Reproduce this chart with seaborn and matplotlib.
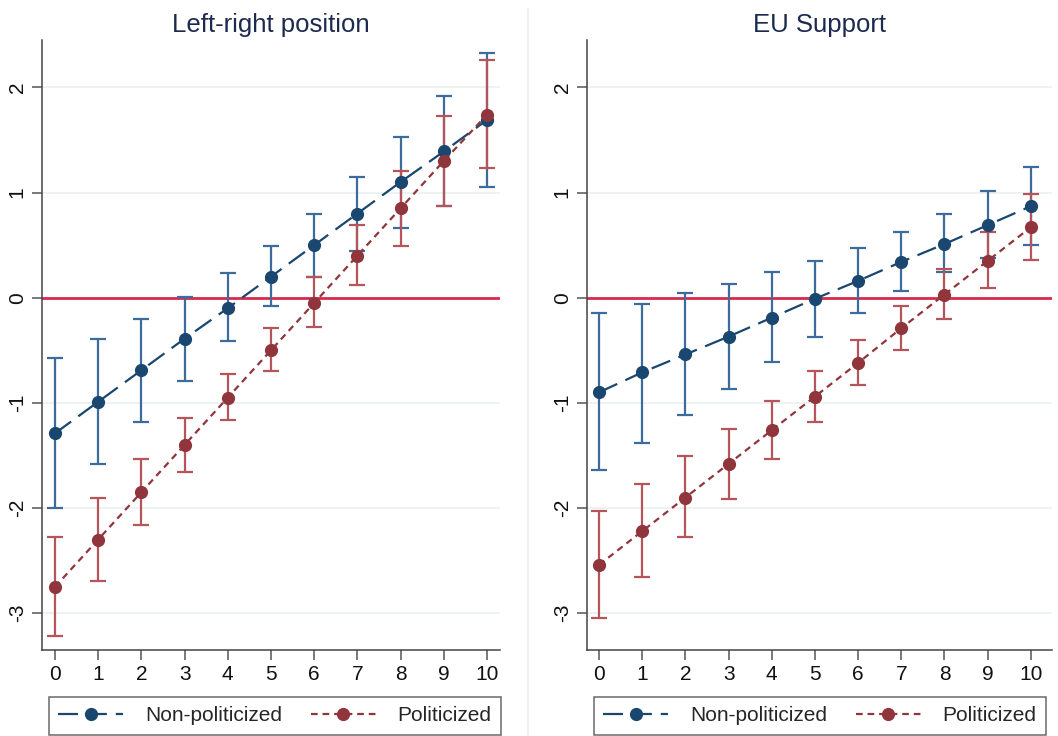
import numpy as np
import pandas as pd
import seaborn as sns
import matplotlib.pyplot as plt
from matplotlib.lines import Line2D

# ── Data ─────────────────────────────────────────────────────────────────────
x_vals = list(range(11))

# Left-right position
lr_nonpol_est = [-1.29, -0.99, -0.69, -0.39, -0.10, 0.20, 0.50, 0.80, 1.10, 1.39, 1.69]
lr_nonpol_lo  = [-2.00, -1.58, -1.18, -0.79, -0.41, -0.08, 0.20, 0.44, 0.66, 0.87, 1.05]
lr_nonpol_hi  = [-0.57, -0.39, -0.20, 0.01, 0.23, 0.49, 0.80, 1.15, 1.53, 1.92, 2.33]

lr_pol_est = [-2.75, -2.30, -1.85, -1.40, -0.95, -0.50, -0.05, 0.40, 0.85, 1.30, 1.74]
lr_pol_lo  = [-3.22, -2.69, -2.16, -1.66, -1.16, -0.70, -0.28, 0.12, 0.49, 0.87, 1.23]
lr_pol_hi  = [-2.28, -1.90, -1.53, -1.14, -0.73, -0.29, 0.20, 0.69, 1.20, 1.73, 2.26]

# EU Support
eu_nonpol_est = [-0.90, -0.71, -0.54, -0.37, -0.19, -0.01, 0.16, 0.34, 0.51, 0.69, 0.87]
eu_nonpol_lo  = [-1.64, -1.38, -1.12, -0.87, -0.61, -0.37, -0.15, 0.06, 0.24, 0.38, 0.50]
eu_nonpol_hi  = [-0.15, -0.06, 0.04, 0.13, 0.24, 0.35, 0.47, 0.62, 0.80, 1.01, 1.24]

eu_pol_est = [-2.54, -2.22, -1.90, -1.58, -1.26, -0.94, -0.62, -0.29, 0.03, 0.35, 0.67]
eu_pol_lo  = [-3.05, -2.66, -2.28, -1.91, -1.53, -1.18, -0.83, -0.50, -0.20, 0.09, 0.36]
eu_pol_hi  = [-2.03, -1.77, -1.51, -1.25, -0.98, -0.70, -0.40, -0.08, 0.27, 0.62, 0.99]

panel_titles = ["Left-right position", "EU Support"]
group_labels = ["Non-politicized", "Politicized"]
y_ticks = [-3, -2, -1, 0, 1, 2]

# ── Styling ──────────────────────────────────────────────────────────────────
BLUE      = "#1a476f"
BLUE_CI   = "#3b6c9c"
RED       = "#90353b"
RED_CI    = "#b5545b"
ZERO_LINE = "#d92a4e"
TITLE_COL = "#1c2a4f"

sns.set_style("white")
plt.rcParams["font.family"] = ["Liberation Sans", "DejaVu Sans"]

W, H = 1058, 736
fig = plt.figure(figsize=(W / 100, H / 100), dpi=100)
ax_l = fig.add_axes([42 / W, 1 - 650 / H, (500 - 42) / W, 610 / H])
ax_r = fig.add_axes([587 / W, 1 - 650 / H, (1052 - 587) / W, 610 / H])

panels = [
    (ax_l, (-0.30, 10.30), 49,  lr_nonpol_est, lr_nonpol_lo, lr_nonpol_hi, lr_pol_est, lr_pol_lo, lr_pol_hi),
    (ax_r, (-0.28, 10.49), 594, eu_nonpol_est, eu_nonpol_lo, eu_nonpol_hi, eu_pol_est, eu_pol_lo, eu_pol_hi),
]

styles = {
    group_labels[0]: dict(color=BLUE, ci=BLUE_CI, dashes=(9, 4)),
    group_labels[1]: dict(color=RED, ci=RED_CI, dashes=(3, 2.2)),
}

for (ax, xlim, leg_left, ne, nl, nh, pe, pl, ph), title in zip(panels, panel_titles):
    df = pd.DataFrame({
        "x": x_vals * 2,
        "est": ne + pe,
        "lo": nl + pl,
        "hi": nh + ph,
        "group": [group_labels[0]] * len(x_vals) + [group_labels[1]] * len(x_vals),
    })

    ax.axhline(0, color=ZERO_LINE, lw=2, zorder=1)

    # confidence intervals
    for grp, sub in df.groupby("group", sort=False):
        st = styles[grp]
        ax.errorbar(
            sub["x"], sub["est"],
            yerr=[sub["est"] - sub["lo"], sub["hi"] - sub["est"]],
            fmt="none", ecolor=st["ci"], elinewidth=1.6, capsize=6, capthick=1.6,
            zorder=2,
        )

    # point estimates + connecting lines
    sns.lineplot(
        data=df, x="x", y="est", hue="group", style="group",
        palette={g: styles[g]["color"] for g in group_labels},
        dashes={g: styles[g]["dashes"] for g in group_labels},
        markers={g: "o" for g in group_labels},
        markersize=9.5, markeredgewidth=0, linewidth=1.6,
        legend=False, ax=ax, zorder=3,
    )

    ax.set_xlim(*xlim)
    ax.set_ylim(-3.35, 2.45)
    ax.set_xticks(x_vals)
    ax.set_yticks(y_ticks)
    ax.set_yticklabels([str(t) for t in y_ticks], rotation=90, va="center")
    ax.set_xlabel("")
    ax.set_ylabel("")
    ax.grid(axis="y", color="#eaf0f0", lw=1.2)
    ax.set_axisbelow(True)
    ax.tick_params(axis="both", direction="out", length=7, width=1.1,
                   color="#555555", labelsize=15, labelcolor="#111111", pad=4)
    ax.tick_params(axis="x", bottom=True)
    ax.tick_params(axis="y", left=True)
    sns.despine(ax=ax)
    for side in ("left", "bottom"):
        ax.spines[side].set_color("#444444")
        ax.spines[side].set_linewidth(1.1)
    ax.set_title(title, fontsize=18.5, color=TITLE_COL, pad=6)

    handles = [
        Line2D([], [], color=styles[g]["color"], lw=1.6, dashes=styles[g]["dashes"],
               marker="o", markersize=9.5, markeredgewidth=0)
        for g in group_labels
    ]
    leg = ax.legend(
        handles, group_labels, loc="upper left", ncol=2,
        bbox_to_anchor=(leg_left / W, 1 - 697 / H), bbox_transform=fig.transFigure,
        borderaxespad=0, fontsize=15, frameon=True, fancybox=False,
        edgecolor="#444444", handlelength=3.1, handletextpad=1.05,
        columnspacing=1.4, borderpad=0.45, numpoints=1,
    )
    leg.get_frame().set_linewidth(1.1)

# light vertical separator between the two panels
fig.add_artist(Line2D([528 / W, 528 / W], [0, 1 - 8 / H], color="#eef0f0", lw=1.2))

fig.savefig("out.png", dpi=100)
